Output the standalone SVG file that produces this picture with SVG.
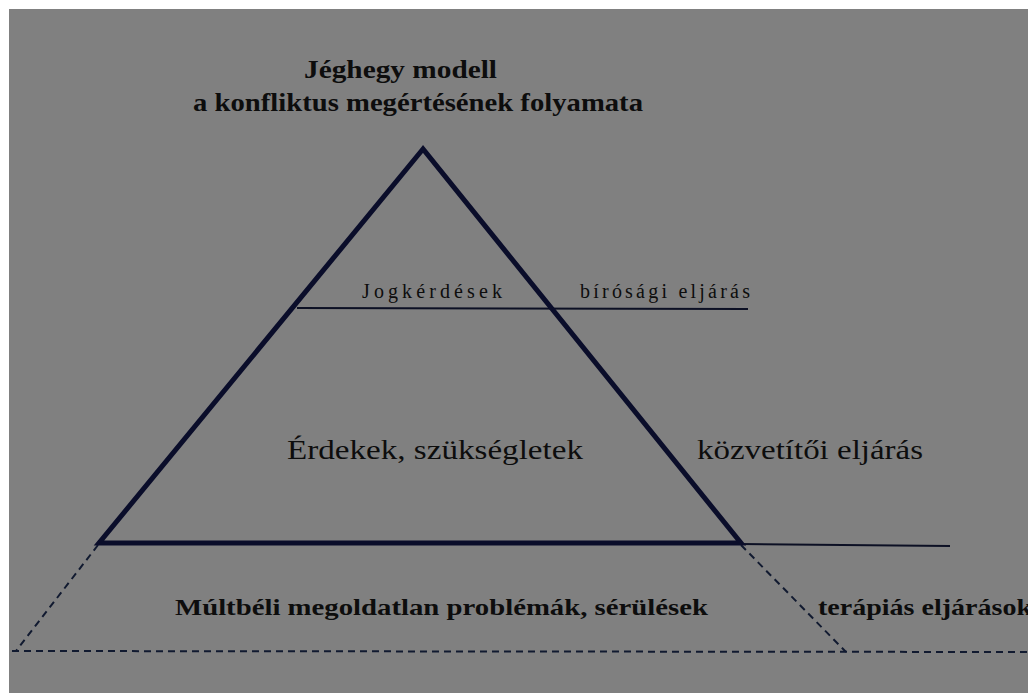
<svg xmlns="http://www.w3.org/2000/svg" width="1028" height="693" viewBox="0 0 1028 693">
<style>
.t{font-family:"Liberation Serif","DejaVu Serif",serif;fill:#0d0d0d}
.b{font-weight:bold}
.thin{stroke:#0c1024;stroke-width:2;fill:none}
.dash{stroke:#111a30;stroke-width:2;fill:none;stroke-dasharray:7,5}
</style>
<rect width="1028" height="693" fill="#ffffff"/>
<rect x="9" y="9" width="1019" height="684" fill="#808080"/>
<g id="connectors">
<line class="thin" x1="297" y1="308" x2="748" y2="309"/>
<line class="thin" x1="741" y1="544" x2="950" y2="546"/>
<line class="dash" x1="98" y1="545" x2="16" y2="651"/>
<line class="dash" x1="741" y1="545" x2="846" y2="652"/>
<line class="dash" x1="12" y1="651" x2="1028" y2="652"/>
</g>
<g id="triangle">
<polygon points="423,149 99,543 741,543" fill="none" stroke="#0a0d2a" stroke-width="5" stroke-linejoin="miter"/>
</g>
<g id="title">
<text class="t b" x="304" y="78" font-size="26" textLength="193" lengthAdjust="spacingAndGlyphs">Jéghegy modell</text>
<text class="t b" x="193" y="111" font-size="26" textLength="450" lengthAdjust="spacingAndGlyphs">a konfliktus megértésének folyamata</text>
</g>
<g id="jog">
<text class="t" x="362" y="298" font-size="20" textLength="140" lengthAdjust="spacing">Jogkérdések</text>
</g>
<g id="birosagi">
<text class="t" x="580" y="298" font-size="20" textLength="170" lengthAdjust="spacing">bírósági eljárás</text>
</g>
<g id="erdekek">
<text class="t" x="287" y="459" font-size="27" textLength="296" lengthAdjust="spacingAndGlyphs">Érdekek, szükségletek</text>
</g>
<g id="kozvetitoi">
<text class="t" x="697" y="459" font-size="27" textLength="226" lengthAdjust="spacingAndGlyphs">közvetítői eljárás</text>
</g>
<g id="multbeli">
<text class="t b" x="175" y="615" font-size="24" textLength="533" lengthAdjust="spacingAndGlyphs">Múltbéli megoldatlan problémák, sérülések</text>
</g>
<g id="terapias">
<text class="t b" x="818" y="615" font-size="24" textLength="214" lengthAdjust="spacingAndGlyphs">terápiás eljárások</text>
</g>
</svg>
